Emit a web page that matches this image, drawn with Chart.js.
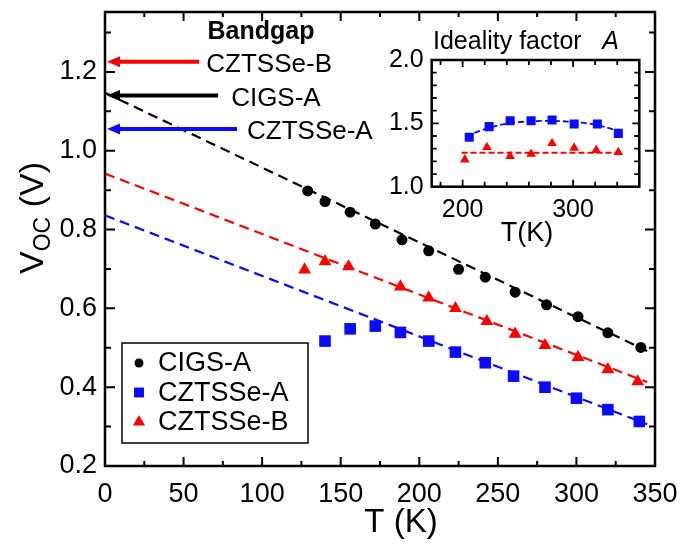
<!DOCTYPE html>
<html><head><meta charset="utf-8">
<script src="https://cdn.jsdelivr.net/npm/chart.js@4.4.1/dist/chart.umd.min.js"></script>
<style>
html,body{margin:0;padding:0;background:#fff;}
#wrap{position:relative;width:686px;height:544px;overflow:hidden;}
#main{position:absolute;left:0;top:0;}
#inset{position:absolute;left:380px;top:20px;}
</style></head><body>
<div id="wrap"><canvas id="main" width="686" height="544"></canvas><canvas id="inset" width="290" height="240"></canvas></div>
<script>
const FONT = '"Liberation Sans", Arial, Helvetica, sans-serif';

// ---- main panel data ----
const tCIGS = [129,140,156,172,189,206,225,242,261,281,301,320,341];
const vCIGS = [0.898,0.871,0.844,0.814,0.774,0.746,0.699,0.679,0.641,0.609,0.579,0.538,0.501];
const tCZA  = [140,156,172,188,206,223,242,260,280,300,320,340];
const vCZA  = [0.517,0.548,0.555,0.539,0.517,0.489,0.462,0.428,0.400,0.372,0.343,0.313];
const tCZB  = [127,140,155,188,206,223,243,261,280,301,320,339];
const vCZB  = [0.698,0.719,0.706,0.655,0.627,0.600,0.567,0.535,0.506,0.476,0.445,0.414];
const tFit  = [0,345];
const fitCIGS = [1.147,0.492];
const fitCZA  = [0.836,0.306];
const fitCZB  = [0.942,0.413];
const seriesNames = ['CIGS-A','CZTSSe-A','CZTSSe-B'];
// bandgap arrows
const bgNames = ['CZTSSe-B','CIGS-A','CZTSSe-A'];
const bgValue = [1.226,1.140,1.055];
const bgTail  = [60,72,84];
// ticks
const xTicks = [0,50,100,150,200,250,300,350];
const xMinor = [25,75,125,175,225,275,325];
const yTicks = [0.2,0.4,0.6,0.8,1.0,1.2];
const yMinor = [0.3,0.5,0.7,0.9,1.1,1.3];

// ---- inset data ----
const tIA = [206,224,243,262,281,301,322,341];
const aIA = [1.390,1.474,1.521,1.521,1.526,1.495,1.495,1.421];
const tIB = [202,222,243,262,281,301,321,341];
const aIB = [1.214,1.311,1.240,1.258,1.343,1.306,1.288,1.272];
const tIAfit = [203,224,242,260,280,300,320,341];
const aIAfit = [1.40,1.465,1.50,1.515,1.52,1.51,1.49,1.44];
const tIBfit = [199,345];
const aIBfit = [1.268,1.268];
const ixTicks = [200,300];
const ixMinor = [180,220,240,260,280,320,340];
const iyTicks = [1.0,1.5,2.0];
const iyMinor = [1.1,1.2,1.3,1.4,1.6,1.7,1.8,1.9];

const BLUE = '#0a0aff', RED = '#ff0000', BLACK = '#000000';
const pts = (xs, ys) => xs.map((v,i)=>({x:v, y:ys[i]}));
const noPad = s => { s.paddingTop=0; s.paddingBottom=0; s.paddingLeft=0; s.paddingRight=0; };

function marker(ctx, style, x, y, r, color){
  ctx.fillStyle = color;
  ctx.beginPath();
  if (style==='circle'){ ctx.arc(x,y,r,0,Math.PI*2); }
  else if (style==='rect'){ const s=r*Math.SQRT1_2; ctx.rect(x-s,y-s,2*s,2*s); }
  else { ctx.moveTo(x, y-r); ctx.lineTo(x+r*Math.sin(2*Math.PI/3), y+r/2); ctx.lineTo(x-r*Math.sin(2*Math.PI/3), y+r/2); ctx.closePath(); }
  ctx.fill();
}

function drawTicks(ctx, a, xs, ys, xMaj, xMin, yMaj, yMin, lMaj, lMin, lw){
  ctx.strokeStyle='#000'; ctx.lineWidth=lw;
  ctx.beginPath();
  const hx=(vals,len)=>vals.forEach(v=>{const p=xs.getPixelForValue(v); if(p<a.left+1||p>a.right-1)return;
    ctx.moveTo(p,a.bottom); ctx.lineTo(p,a.bottom-len); ctx.moveTo(p,a.top); ctx.lineTo(p,a.top+len);});
  const hy=(vals,len)=>vals.forEach(v=>{const p=ys.getPixelForValue(v); if(p<a.top+1||p>a.bottom-1)return;
    ctx.moveTo(a.left,p); ctx.lineTo(a.left+len,p); ctx.moveTo(a.right,p); ctx.lineTo(a.right-len,p);});
  hx(xMaj,lMaj[0]); hx(xMin,lMin[0]); hy(yMaj,lMaj[1]); hy(yMin,lMin[1]);
  ctx.stroke();
}

const mainDecor = {
  id:'mainDecor',
  afterDraw(chart){
    const {ctx, chartArea:a, scales:{x,y}} = chart;
    ctx.save();
    drawTicks(ctx,a,x,y,xTicks,xMinor,yTicks,yMinor,[9,10],[5,6],2);
    ctx.lineWidth=2.5; ctx.strokeStyle='#000';
    ctx.strokeRect(a.left,a.top,a.right-a.left,a.bottom-a.top);
    // bandgap arrows
    const cols=[RED,BLACK,BLUE], offs=[7,13,10];
    ctx.font = '26px '+FONT; ctx.textBaseline='middle'; ctx.textAlign='left';
    bgValue.forEach((v,i)=>{
      const py=y.getPixelForValue(v), tx=x.getPixelForValue(bgTail[i]), hx=x.getPixelForValue(0)+2;
      ctx.strokeStyle=cols[i]; ctx.fillStyle=cols[i]; ctx.lineWidth=4;
      ctx.beginPath(); ctx.moveTo(tx,py); ctx.lineTo(hx+10,py); ctx.stroke();
      ctx.beginPath(); ctx.moveTo(hx,py); ctx.lineTo(hx+13,py-5.5); ctx.lineTo(hx+13,py+5.5); ctx.closePath(); ctx.fill();
      ctx.fillStyle='#000'; ctx.fillText(bgNames[i], tx+offs[i], py+3);
    });
    ctx.font='bold 25px '+FONT; ctx.textAlign='center'; ctx.fillStyle='#000';
    ctx.fillText('Bandgap', 261, 32);
    // legend
    ctx.lineWidth=1.5; ctx.strokeStyle='#000';
    ctx.strokeRect(122,343,186,100);
    ctx.font='27px '+FONT; ctx.textAlign='left'; ctx.textBaseline='middle';
    const ds=chart.data.datasets;
    [0,1,2].forEach((k,i)=>{
      const ly=363+i*29.5;
      marker(ctx, ds[k].pointStyle, 139, ly, k===0?4.5:7, ds[k].backgroundColor);
      ctx.fillStyle='#000'; ctx.fillText(ds[k].label, 158, ly+1);
    });
    // axis titles
    ctx.fillStyle='#000'; ctx.textBaseline='alphabetic';
    ctx.font='33px '+FONT; ctx.textAlign='center';
    ctx.fillText('T (K)', 401, 532);
    ctx.save();
    ctx.translate(31,218); ctx.rotate(-Math.PI/2);
    ctx.textAlign='left';
    ctx.font='34px '+FONT; const w1=ctx.measureText('V').width, w3=ctx.measureText(' (V)').width;
    ctx.font='23px '+FONT; const w2=ctx.measureText('OC').width;
    let sx=-(w1+w2+w3)/2;
    ctx.font='34px '+FONT; ctx.fillText('V',sx,12); sx+=w1;
    ctx.font='23px '+FONT; ctx.fillText('OC',sx,19); sx+=w2;
    ctx.font='34px '+FONT; ctx.fillText(' (V)',sx,12);
    ctx.restore();
    ctx.restore();
  }
};

new Chart(document.getElementById('main'), {
  type:'scatter',
  data:{datasets:[
    {label:seriesNames[0], data:pts(tCIGS,vCIGS), pointStyle:'circle', pointRadius:5.5, backgroundColor:BLACK, borderWidth:0},
    {label:seriesNames[1], data:pts(tCZA,vCZA), pointStyle:'rect', pointRadius:8.2, backgroundColor:BLUE, borderWidth:0},
    {label:seriesNames[2], data:pts(tCZB,vCZB), pointStyle:'triangle', pointRadius:7.4, backgroundColor:RED, borderWidth:0},
    {label:'fit CIGS-A', data:pts(tFit,fitCIGS), showLine:true, pointRadius:0, borderColor:BLACK, borderWidth:2.2, borderDash:[10,6]},
    {label:'fit CZTSSe-A', data:pts(tFit,fitCZA), showLine:true, pointRadius:0, borderColor:BLUE, borderWidth:2.2, borderDash:[10,6]},
    {label:'fit CZTSSe-B', data:pts(tFit,fitCZB), showLine:true, pointRadius:0, borderColor:RED, borderWidth:2.2, borderDash:[10,6]}
  ]},
  options:{
    responsive:false, animation:false, devicePixelRatio:1,
    layout:{padding:{left:0,top:12,right:31,bottom:0}},
    plugins:{legend:{display:false}, tooltip:{enabled:false}},
    scales:{
      x:{type:'linear', min:0, max:350,
         grid:{display:false, drawTicks:false}, border:{display:false},
         ticks:{font:{family:FONT,size:27}, color:'#000', padding:12, maxRotation:0},
         afterBuildTicks:s=>{s.ticks=xTicks.map(v=>({value:v}));},
         afterFit:s=>{s.height=78; noPad(s);}},
      y:{type:'linear', min:0.2, max:1.352,
         grid:{display:false, drawTicks:false}, border:{display:false},
         ticks:{font:{family:FONT,size:27}, color:'#000', padding:8, callback:v=>v.toFixed(1)},
         afterBuildTicks:s=>{s.ticks=yTicks.map(v=>({value:v}));},
         afterFit:s=>{s.width=105; noPad(s);}}
    }
  },
  plugins:[mainDecor]
});

const insetDecor = {
  id:'insetDecor',
  afterDraw(chart){
    const {ctx, chartArea:a, scales:{x,y}} = chart;
    ctx.save();
    drawTicks(ctx,a,x,y,ixTicks,ixMinor,iyTicks,iyMinor,[7,7],[5,5],1.8);
    ctx.lineWidth=2.5; ctx.strokeStyle='#000';
    ctx.strokeRect(a.left,a.top,a.right-a.left,a.bottom-a.top);
    ctx.fillStyle='#000'; ctx.textBaseline='alphabetic'; ctx.textAlign='left';
    ctx.font='25px '+FONT;
    ctx.fillText('Ideality factor', 53, 29);
    ctx.font='italic 25px '+FONT;
    const wa=ctx.measureText('A').width;
    ctx.fillText('A', 239-wa, 29);
    ctx.font='27px '+FONT; ctx.textAlign='center';
    ctx.fillText('T(K)', 147, 221);
    ctx.restore();
  }
};

new Chart(document.getElementById('inset'), {
  type:'scatter',
  data:{datasets:[
    {label:'CZTSSe-A', data:pts(tIA,aIA), pointStyle:'rect', pointRadius:6.4, backgroundColor:BLUE, borderWidth:0},
    {label:'CZTSSe-B', data:pts(tIB,aIB), pointStyle:'triangle', pointRadius:5.6, backgroundColor:RED, borderWidth:0},
    {label:'fit A', data:pts(tIAfit,aIAfit), showLine:true, tension:0.4, pointRadius:0, borderColor:BLUE, borderWidth:1.8, borderDash:[6,3]},
    {label:'fit B', data:pts(tIBfit,aIBfit), showLine:true, pointRadius:0, borderColor:RED, borderWidth:1.8, borderDash:[6,3]}
  ]},
  options:{
    responsive:false, animation:false, devicePixelRatio:1,
    layout:{padding:{left:0,top:40,right:30.7,bottom:0}},
    plugins:{legend:{display:false}, tooltip:{enabled:false}},
    scales:{
      x:{type:'linear', min:172, max:360,
         grid:{display:false, drawTicks:false}, border:{display:false},
         ticks:{font:{family:FONT,size:25}, color:'#000', padding:8, maxRotation:0},
         afterBuildTicks:s=>{s.ticks=ixTicks.map(v=>({value:v}));},
         afterFit:s=>{s.height=240-166.7; noPad(s);}},
      y:{type:'linear', min:1.0, max:2.0,
         grid:{display:false, drawTicks:false}, border:{display:false},
         ticks:{font:{family:FONT,size:25}, color:'#000', padding:8, callback:v=>v.toFixed(1)},
         afterBuildTicks:s=>{s.ticks=iyTicks.map(v=>({value:v}));},
         afterFit:s=>{s.width=51.7; noPad(s);}}
    }
  },
  plugins:[insetDecor]
});
</script>
</body></html>
